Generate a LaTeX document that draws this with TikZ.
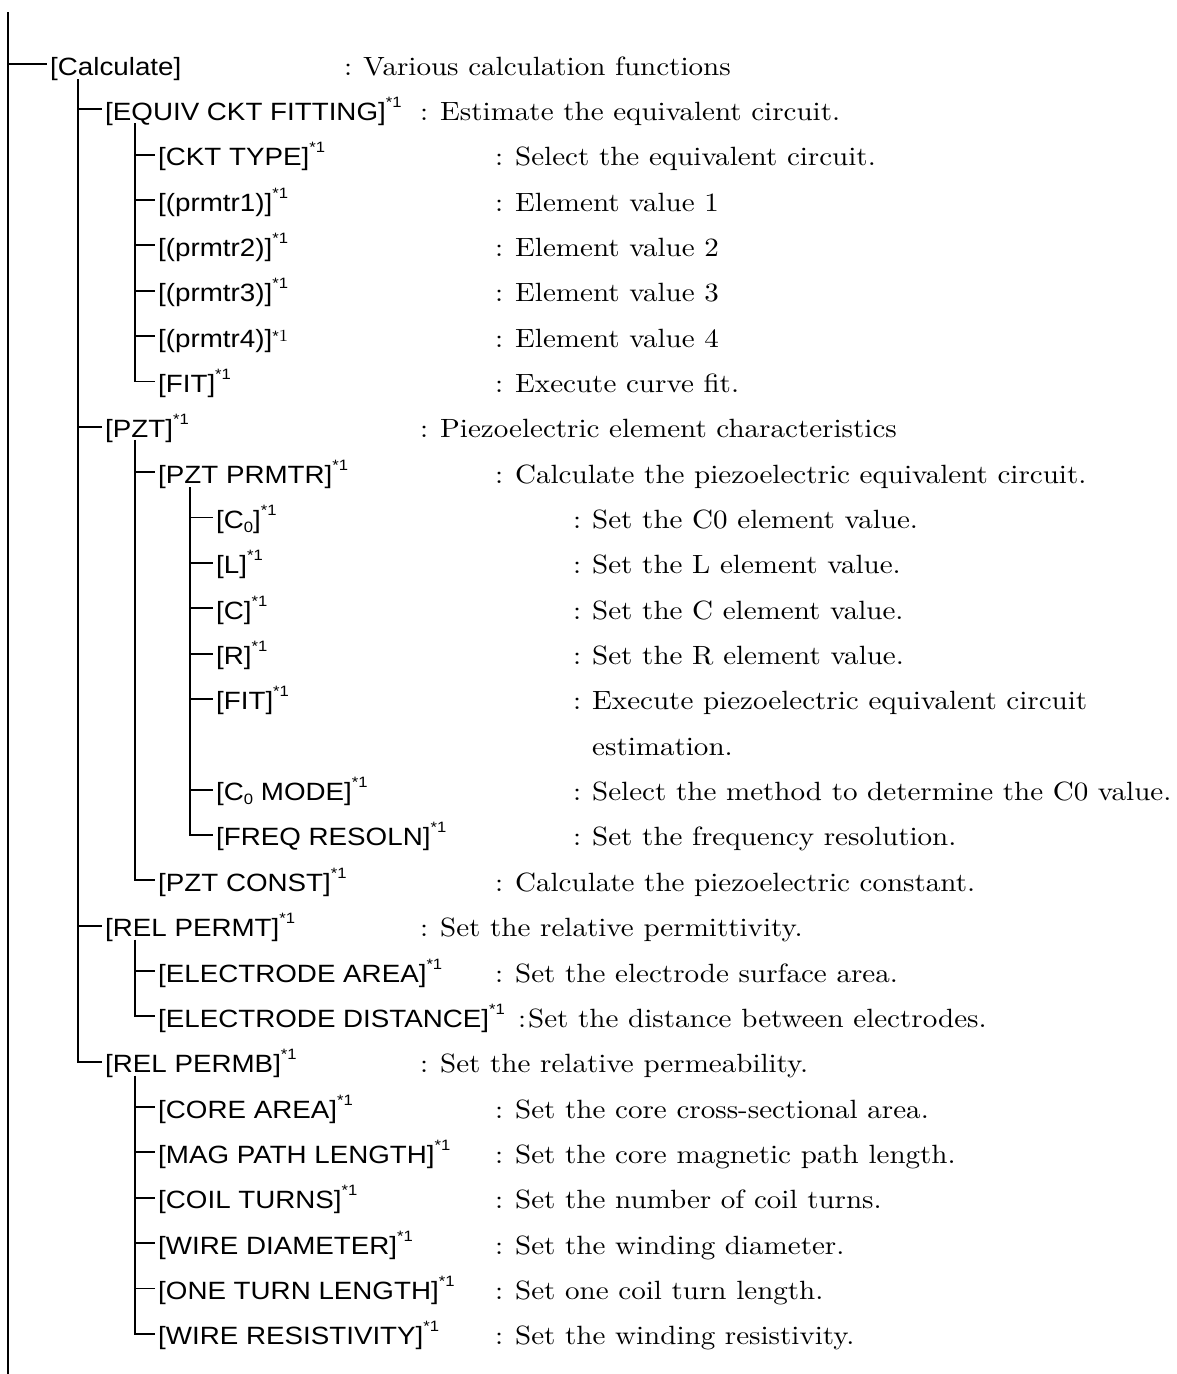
\documentclass[tikz,border=0pt]{standalone}
\usepackage{fontspec}
\newfontfamily\lblfont{Liberation Sans}[FakeStretch=1.11]
\newfontfamily\dscfont{lmroman10-regular}[Extension=.otf,FakeStretch=1.1]
\newcommand\sone{\raisebox{13pt}{\fontsize{15}{15}\selectfont *1}}
\newcommand\sfour{\raisebox{6pt}{\fontsize{15}{15}\selectfont *{\dscfont\fontsize{17}{17}\selectfont 1}}}
\newcommand\subz{\raisebox{-4pt}{\fontsize{15}{15}\selectfont 0}}
\newcommand\RY[1]{(64+45.35*#1)}
\newcommand\lab[4]{%
  \coordinate (#1-in) at ({#2-3},{\RY{#3}});
  \node[lbl] (#1) at (#2,{\RY{#3}+11}) {#4};}
\newcommand\dsc[5]{%
  \node[dsc] (#1) at (#2,{\RY{#3}+11}) {\makebox[#4pt][l]{:}#5};}
\tikzset{
  lbl/.style={anchor=base west, inner sep=0pt, font=\lblfont\fontsize{25}{25}\selectfont},
  dsc/.style={anchor=base west, inner sep=0pt, font=\dscfont\fontsize{26.4}{26.4}\selectfont},
  tree/.style={line width=1.9pt, draw=black}
}
\begin{document}
\begin{tikzpicture}[x=1pt,y=-1pt]
\useasboundingbox[fill=white] (0,0) rectangle (1176,1374);
% labels
\lab{calc}{50}{0}{[Calculate]}
\lab{equiv}{105}{1}{[EQUIV CKT FITTING]\sone}
\lab{ckt}{158}{2}{[CKT TYPE]\sone}
\lab{pa}{158}{3}{[(prmtr1)]\sone}
\lab{pb}{158}{4}{[(prmtr2)]\sone}
\lab{pc}{158}{5}{[(prmtr3)]\sone}
\lab{pd}{158}{6}{[(prmtr4)]\sfour}
\lab{fitA}{158}{7}{[FIT]\sone}
\lab{pzt}{105}{8}{[PZT]\sone}
\lab{prmtr}{158}{9}{[PZT PRMTR]\sone}
\lab{czero}{216}{10}{[C\subz]\sone}
\lab{ell}{216}{11}{[L]\sone}
\lab{cee}{216}{12}{[C]\sone}
\lab{arr}{216}{13}{[R]\sone}
\lab{fitB}{216}{14}{[FIT]\sone}
\lab{cmode}{216}{16}{[C\subz\ MODE]\sone}
\lab{freq}{216}{17}{[FREQ RESOLN]\sone}
\lab{const}{158}{18}{[PZT CONST]\sone}
\lab{permt}{105}{19}{[REL PERMT]\sone}
\lab{earea}{158}{20}{[ELECTRODE AREA]\sone}
\lab{edist}{158}{21}{[ELECTRODE DISTANCE]\sone}
\lab{permb}{105}{22}{[REL PERMB]\sone}
\lab{core}{158}{23}{[CORE AREA]\sone}
\lab{mag}{158}{24}{[MAG PATH LENGTH]\sone}
\lab{coil}{158}{25}{[COIL TURNS]\sone}
\lab{wdiam}{158}{26}{[WIRE DIAMETER]\sone}
\lab{oneturn}{158}{27}{[ONE TURN LENGTH]\sone}
\lab{wres}{158}{28}{[WIRE RESISTIVITY]\sone}
% descriptions
\dsc{d0}{344}{0}{19}{Various calculation functions}
\dsc{d1}{420}{1}{20}{Estimate the equivalent circuit.}
\dsc{d2}{495}{2}{20}{Select the equivalent circuit.}
\dsc{d3}{495}{3}{20}{Element value 1}
\dsc{d4}{495}{4}{20}{Element value 2}
\dsc{d5}{495}{5}{20}{Element value 3}
\dsc{d6}{495}{6}{20}{Element value 4}
\dsc{d7}{495}{7}{20}{Execute curve fit.}
\dsc{d8}{420}{8}{20}{Piezoelectric element characteristics}
\dsc{d9}{495}{9}{20}{Calculate the piezoelectric equivalent circuit.}
\dsc{d10}{573}{10}{19}{Set the C0 element value.}
\dsc{d11}{573}{11}{19}{Set the L element value.}
\dsc{d12}{573}{12}{19}{Set the C element value.}
\dsc{d13}{573}{13}{19}{Set the R element value.}
\dsc{d14}{573}{14}{19}{Execute piezoelectric equivalent circuit}
\node[dsc] (d15) at (592,{\RY{15}+11}) {estimation.};
\dsc{d16}{573}{16}{19}{Select the method to determine the C0 value.}
\dsc{d17}{573}{17}{19}{Set the frequency resolution.}
\dsc{d18}{495}{18}{20}{Calculate the piezoelectric constant.}
\dsc{d19}{420}{19}{20}{Set the relative permittivity.}
\dsc{d20}{495}{20}{20}{Set the electrode surface area.}
\dsc{d21}{518}{21}{10}{Set the distance between electrodes.}
\dsc{d22}{420}{22}{20}{Set the relative permeability.}
\dsc{d23}{495}{23}{20}{Set the core cross-sectional area.}
\dsc{d24}{495}{24}{20}{Set the core magnetic path length.}
\dsc{d25}{495}{25}{20}{Set the number of coil turns.}
\dsc{d26}{495}{26}{20}{Set the winding diameter.}
\dsc{d27}{495}{27}{20}{Set one coil turn length.}
\dsc{d28}{495}{28}{20}{Set the winding resistivity.}
% tree lines
\coordinate (root-top) at (8,12);
\coordinate (root-bot) at (8,1374);
\draw[tree] (root-top) -- (root-bot);
\draw[tree] (root-top |- calc-in) -- (calc-in);
\coordinate (calc-down) at (78,{\RY{0}+15});
\draw[tree] (calc-down) |- (permb-in);
\foreach \n in {equiv,pzt,permt} \draw[tree] (calc-down |- \n-in) -- (\n-in);
\coordinate (equiv-down) at (135,{\RY{1}+14});
\draw[tree] (equiv-down) |- (fitA-in);
\foreach \n in {ckt,pa,pb,pc,pd} \draw[tree] (equiv-down |- \n-in) -- (\n-in);
\coordinate (pzt-down) at (135,{\RY{8}+13});
\draw[tree] (pzt-down) |- (const-in);
\draw[tree] (pzt-down |- prmtr-in) -- (prmtr-in);
\coordinate (prmtr-down) at (190,{\RY{9}+15});
\draw[tree] (prmtr-down) |- (freq-in);
\foreach \n in {czero,ell,cee,arr,fitB,cmode} \draw[tree] (prmtr-down |- \n-in) -- (\n-in);
\coordinate (permt-down) at (135,{\RY{19}+14});
\draw[tree] (permt-down) |- (edist-in);
\draw[tree] (permt-down |- earea-in) -- (earea-in);
\coordinate (permb-down) at (135,{\RY{22}+14});
\draw[tree] (permb-down) |- (wres-in);
\foreach \n in {core,mag,coil,wdiam,oneturn} \draw[tree] (permb-down |- \n-in) -- (\n-in);
\end{tikzpicture}
\end{document}
